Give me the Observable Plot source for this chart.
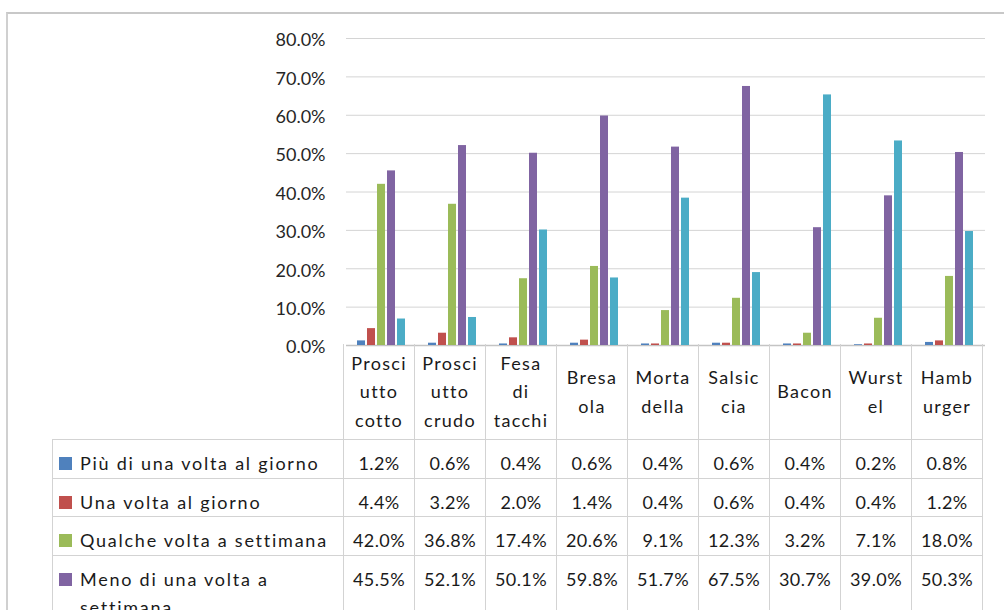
<!DOCTYPE html>
<html>
<head>
<meta charset="utf-8">
<script src="https://cdn.jsdelivr.net/npm/d3@7"></script>
<script src="https://cdn.jsdelivr.net/npm/@observablehq/plot@0.6"></script>
<style>
html, body { margin: 0; padding: 0; background: #fff; overflow: hidden; width: 1004px; height: 610px; }
#frame { position: absolute; left: 6px; top: 12px; width: 1100px; height: 700px;
  border-left: 2px solid #d0d0d0; border-top: 2px solid #c8c8c8; box-sizing: border-box; }
#chart { position: absolute; left: 0; top: 0; }
#chart svg { overflow: visible; }
table.dt { position: absolute; left: 44px; top: 330px; border-collapse: collapse; table-layout: fixed;
  font-family: Lato, "Open Sans", sans-serif; font-size: 18px; color: #1a1a1a; line-height: 28.5px; }
table.dt td, table.dt th { border: 1px solid #d3d3d3; padding: 0; font-weight: normal; text-align: center; }
table.dt th { height: 95px; vertical-align: middle; white-space: pre-line; letter-spacing: 1.3px; border-top: none; }
table.dt th.corner { border: none; border-right: 1px solid #d3d3d3; }
table.dt td { vertical-align: top; padding-top: 9px; height: 28px; letter-spacing: 0.4px; }
table.dt td.lab { text-align: left; letter-spacing: 1.75px; }
.lab .wrap { display: flex; align-items: flex-start; padding-left: 6px; }
.lab .key { flex: none; width: 13px; height: 13px; margin-top: 8px; margin-right: 8px; }
</style>
</head>
<body>
<div id="frame">
  <div id="chart"></div>
</div>
<script>
// ---- data ----
const categories = ["Prosciutto cotto", "Prosciutto crudo", "Fesa di tacchi", "Bresaola", "Mortadella", "Salsiccia", "Bacon", "Wurstel", "Hamburger"];
const categoryLabels = ["Prosci\nutto\ncotto", "Prosci\nutto\ncrudo", "Fesa\ndi\ntacchi", "Bresa\nola", "Morta\ndella", "Salsic\ncia", "Bacon", "Wurst\nel", "Hamb\nurger"];
const seriesNames = ["Più di una volta al giorno", "Una volta al giorno", "Qualche volta a settimana", "Meno di una volta a settimana", "Mai"];
const piuDiUnaVoltaAlGiorno = [1.2, 0.6, 0.4, 0.6, 0.4, 0.6, 0.4, 0.2, 0.8];
const unaVoltaAlGiorno      = [4.4, 3.2, 2.0, 1.4, 0.4, 0.6, 0.4, 0.4, 1.2];
const qualcheVoltaASettimana = [42.0, 36.8, 17.4, 20.6, 9.1, 12.3, 3.2, 7.1, 18.0];
const menoDiUnaVoltaASettimana = [45.5, 52.1, 50.1, 59.8, 51.7, 67.5, 30.7, 39.0, 50.3];
const mai = [6.9, 7.3, 30.1, 17.6, 38.4, 19.0, 65.3, 53.3, 29.7];
const seriesValues = [piuDiUnaVoltaAlGiorno, unaVoltaAlGiorno, qualcheVoltaASettimana, menoDiUnaVoltaASettimana, mai];
const colors = ["#4F81BD", "#C0504D", "#9BBB59", "#8064A2", "#4BACC6"];
const yTicks = [0, 10, 20, 30, 40, 50, 60, 70, 80];
const visibleTableRows = 4; // the reference shows only the first four rows of the data table

const rows = categories.flatMap((c, i) => seriesNames.map((s, j) => ({cat: c, series: s, value: seriesValues[j][i]})));
const fmt = d => d.toFixed(1) + "%";

const plot = Plot.plot({
  width: 996,
  height: 348,
  marginLeft: 335,
  marginRight: 16,
  marginTop: 24,
  marginBottom: 17,
  style: {fontFamily: "Lato, 'Open Sans', sans-serif", fontSize: "18px", background: "transparent", overflow: "visible"},
  fx: {domain: categories, padding: 0, axis: null, label: null},
  x: {domain: seriesNames, paddingInner: 0.16, paddingOuter: 0.92, axis: null},
  y: {domain: [0, 80], label: null},
  color: {domain: seriesNames, range: colors},
  marks: [
    Plot.ruleY(yTicks.filter(d => d > 0), {stroke: "#d4d4d4", strokeWidth: 1}),
    Plot.ruleY([0], {stroke: "#c4c4c4", strokeWidth: 1.5}),
    Plot.barY(rows, {fx: "cat", x: "series", y: "value", fill: "series"}),
    Plot.axisY(yTicks, {tickSize: 0, tickPadding: 21, tickFormat: fmt, fontSize: 18, fill: "#262626", dy: 2, label: null})
  ]
});
document.getElementById("chart").appendChild(plot);

// ---- data table below the chart, aligned to the fx bands ----
let bw = 645 / categories.length;
try { const fx = plot.scale("fx"); if (fx && fx.bandwidth) bw = fx.bandwidth; } catch (e) {}
const labelW = 291;

const table = d3.select("#frame").append("table").attr("class", "dt");
const cg = table.append("colgroup");
cg.append("col").style("width", labelW + "px");
categories.forEach(() => cg.append("col").style("width", bw + "px"));
table.style("width", (labelW + bw * categories.length) + "px");

const head = table.append("tr");
head.append("th").attr("class", "corner");
categoryLabels.forEach(l => head.append("th").text(l));

seriesNames.slice(0, visibleTableRows).forEach((s, j) => {
  const tr = table.append("tr");
  const w = tr.append("td").attr("class", "lab").append("div").attr("class", "wrap");
  w.append("span").attr("class", "key").style("background", colors[j]);
  w.append("span").text(s);
  seriesValues[j].forEach(v => tr.append("td").text(fmt(v)));
});
</script>
</body>
</html>
